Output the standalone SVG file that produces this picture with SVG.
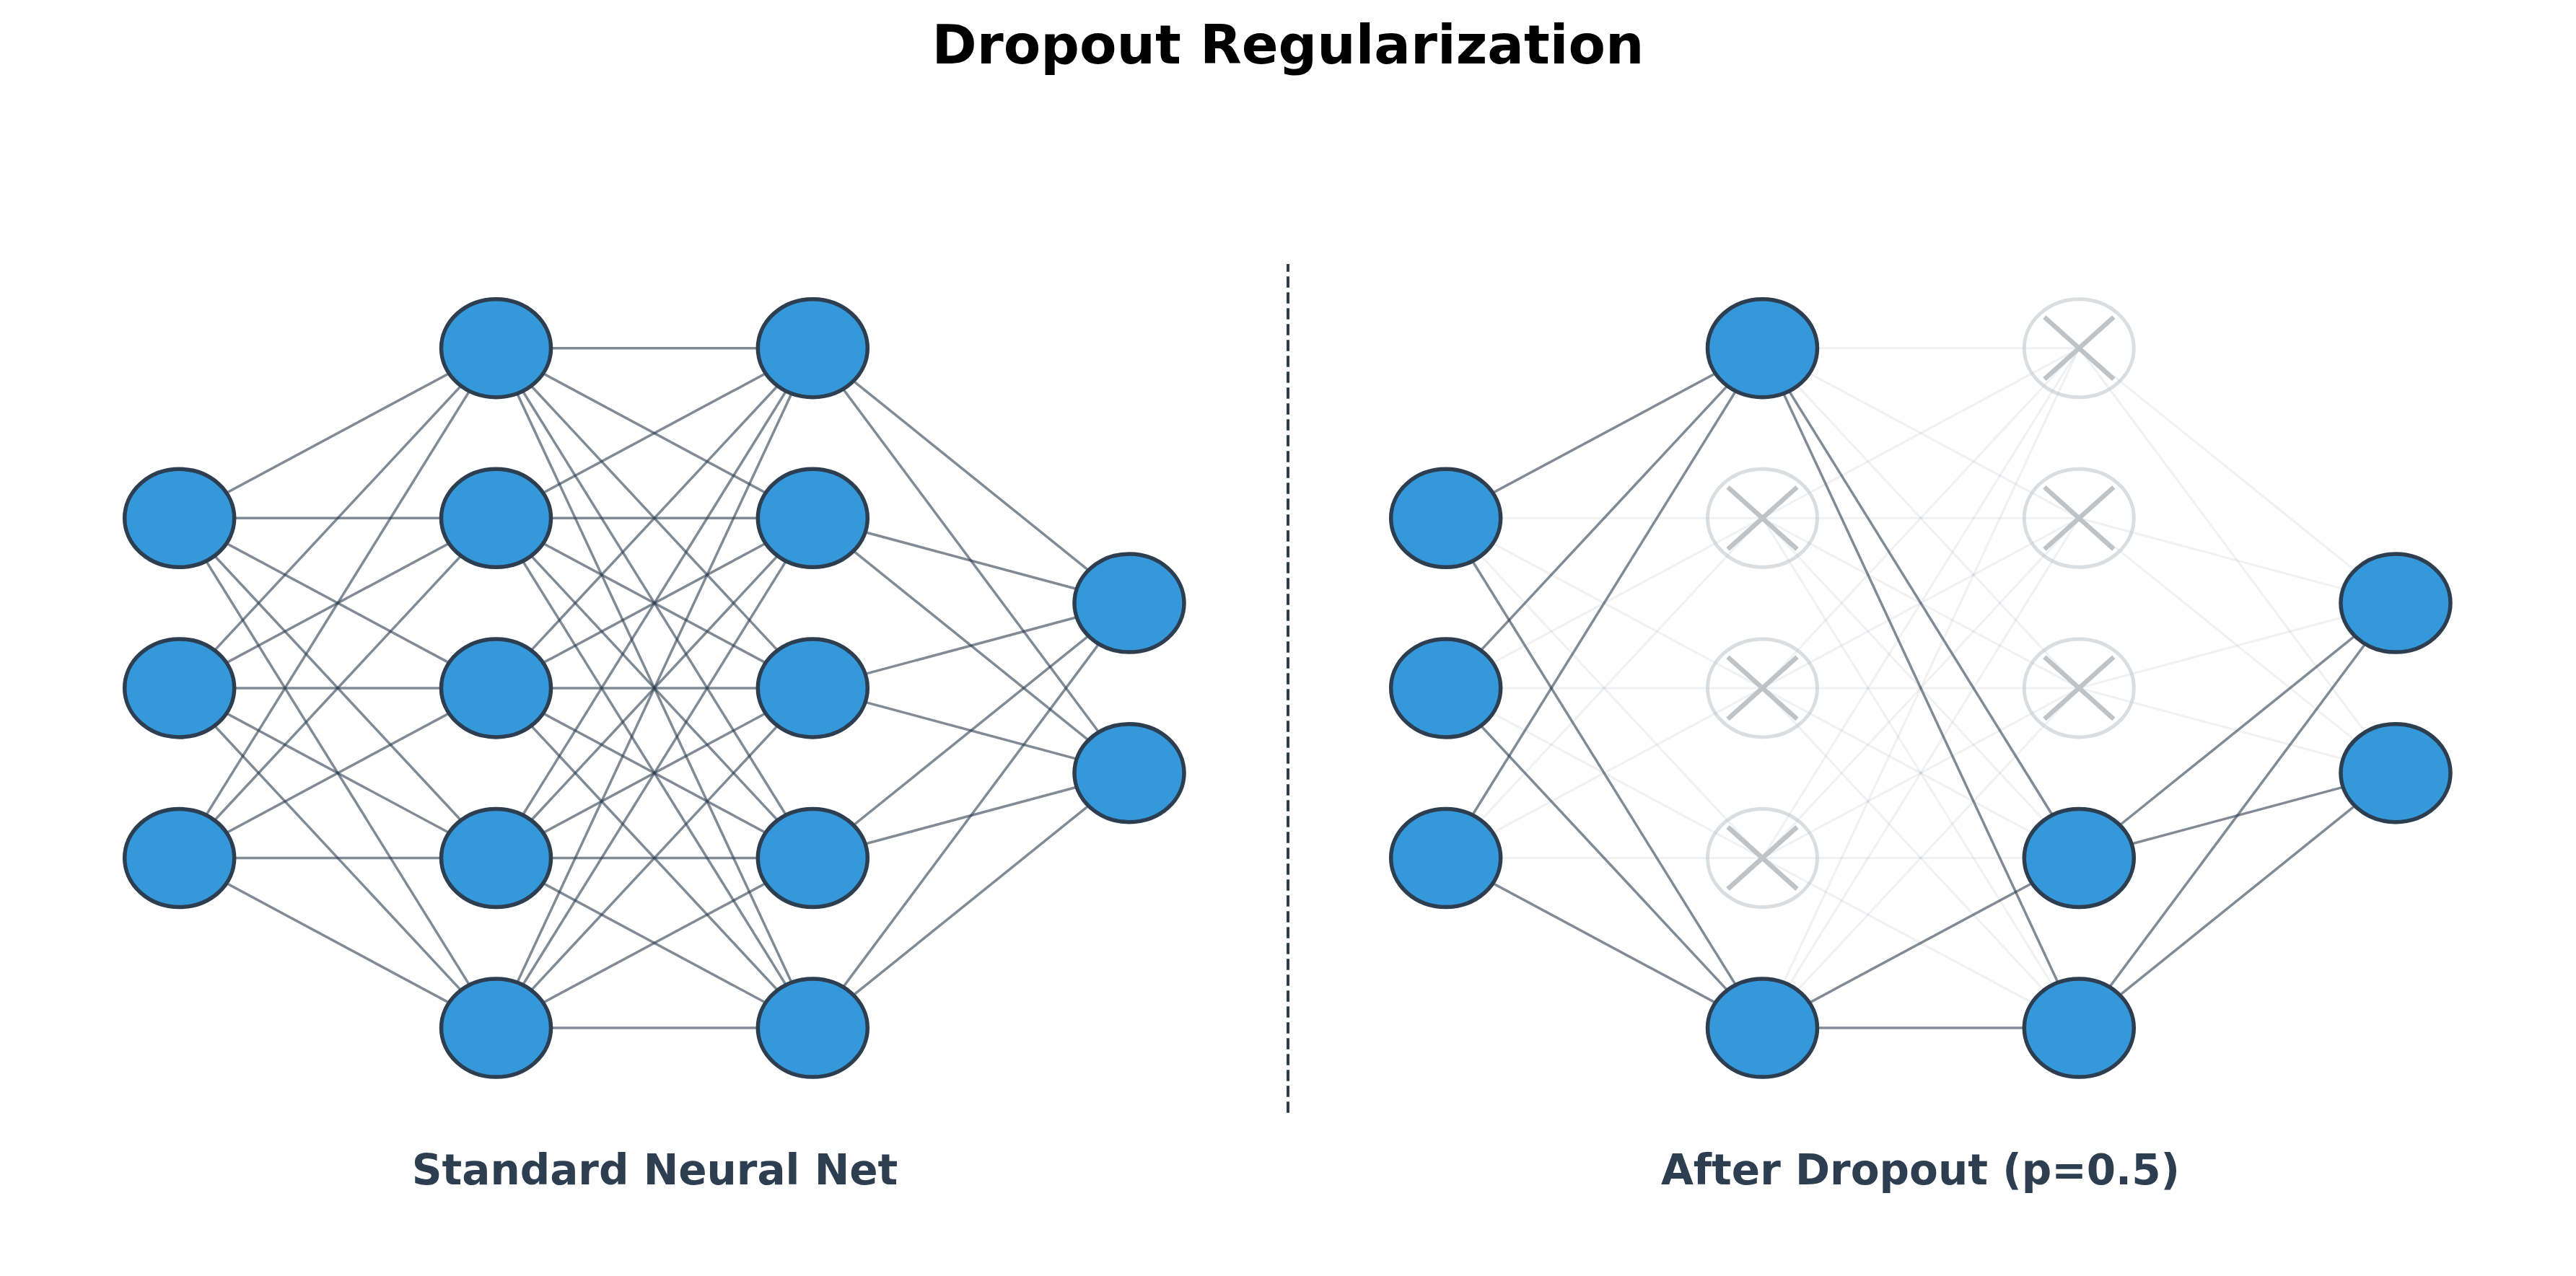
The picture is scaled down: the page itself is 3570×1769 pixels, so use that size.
<svg xmlns="http://www.w3.org/2000/svg" width="3570" height="1769" viewBox="0 0 3570 1769">
<style>
.bg{fill:#ffffff}
.c{stroke:#2c3e50;stroke-opacity:0.6;stroke-width:3.5}
.f{stroke:#2c3e50;stroke-opacity:0.07;stroke-width:3}
.n{fill:#3498db;stroke:#2c3e50;stroke-width:5.5}
.d{fill:none;stroke:#bdc3c7;stroke-opacity:0.55;stroke-width:5}
.x{stroke:#bdc3c7;stroke-width:6.5}
.title{font-family:"DejaVu Sans","Liberation Sans",sans-serif;font-weight:bold;font-size:75px;fill:#000000;text-anchor:middle}
.lab{font-family:"DejaVu Sans","Liberation Sans",sans-serif;font-weight:bold;font-size:58px;fill:#2c3e50;text-anchor:middle}
.div{stroke:#2c3e50;stroke-width:4;stroke-dasharray:15.5 6.5;fill:none}
</style>
<rect class="bg" x="0" y="0" width="3570" height="1769"/>
<text class="title" x="1785" y="88">Dropout Regularization</text>
<path class="div" d="M1785 1542.7 V366"/>
<g id="connectors">
<!-- left network: input -> hidden1 -->
<line class="c" x1="248.7" y1="718.3" x2="687.5" y2="482.7"/>
<line class="c" x1="248.7" y1="718.3" x2="687.5" y2="718.3"/>
<line class="c" x1="248.7" y1="718.3" x2="687.5" y2="953.9"/>
<line class="c" x1="248.7" y1="718.3" x2="687.5" y2="1189.5"/>
<line class="c" x1="248.7" y1="718.3" x2="687.5" y2="1425.1"/>
<line class="c" x1="248.7" y1="953.9" x2="687.5" y2="482.7"/>
<line class="c" x1="248.7" y1="953.9" x2="687.5" y2="718.3"/>
<line class="c" x1="248.7" y1="953.9" x2="687.5" y2="953.9"/>
<line class="c" x1="248.7" y1="953.9" x2="687.5" y2="1189.5"/>
<line class="c" x1="248.7" y1="953.9" x2="687.5" y2="1425.1"/>
<line class="c" x1="248.7" y1="1189.5" x2="687.5" y2="482.7"/>
<line class="c" x1="248.7" y1="1189.5" x2="687.5" y2="718.3"/>
<line class="c" x1="248.7" y1="1189.5" x2="687.5" y2="953.9"/>
<line class="c" x1="248.7" y1="1189.5" x2="687.5" y2="1189.5"/>
<line class="c" x1="248.7" y1="1189.5" x2="687.5" y2="1425.1"/>
<!-- left: hidden1 -> hidden2 -->
<line class="c" x1="687.5" y1="482.7" x2="1126.3" y2="482.7"/>
<line class="c" x1="687.5" y1="482.7" x2="1126.3" y2="718.3"/>
<line class="c" x1="687.5" y1="482.7" x2="1126.3" y2="953.9"/>
<line class="c" x1="687.5" y1="482.7" x2="1126.3" y2="1189.5"/>
<line class="c" x1="687.5" y1="482.7" x2="1126.3" y2="1425.1"/>
<line class="c" x1="687.5" y1="718.3" x2="1126.3" y2="482.7"/>
<line class="c" x1="687.5" y1="718.3" x2="1126.3" y2="718.3"/>
<line class="c" x1="687.5" y1="718.3" x2="1126.3" y2="953.9"/>
<line class="c" x1="687.5" y1="718.3" x2="1126.3" y2="1189.5"/>
<line class="c" x1="687.5" y1="718.3" x2="1126.3" y2="1425.1"/>
<line class="c" x1="687.5" y1="953.9" x2="1126.3" y2="482.7"/>
<line class="c" x1="687.5" y1="953.9" x2="1126.3" y2="718.3"/>
<line class="c" x1="687.5" y1="953.9" x2="1126.3" y2="953.9"/>
<line class="c" x1="687.5" y1="953.9" x2="1126.3" y2="1189.5"/>
<line class="c" x1="687.5" y1="953.9" x2="1126.3" y2="1425.1"/>
<line class="c" x1="687.5" y1="1189.5" x2="1126.3" y2="482.7"/>
<line class="c" x1="687.5" y1="1189.5" x2="1126.3" y2="718.3"/>
<line class="c" x1="687.5" y1="1189.5" x2="1126.3" y2="953.9"/>
<line class="c" x1="687.5" y1="1189.5" x2="1126.3" y2="1189.5"/>
<line class="c" x1="687.5" y1="1189.5" x2="1126.3" y2="1425.1"/>
<line class="c" x1="687.5" y1="1425.1" x2="1126.3" y2="482.7"/>
<line class="c" x1="687.5" y1="1425.1" x2="1126.3" y2="718.3"/>
<line class="c" x1="687.5" y1="1425.1" x2="1126.3" y2="953.9"/>
<line class="c" x1="687.5" y1="1425.1" x2="1126.3" y2="1189.5"/>
<line class="c" x1="687.5" y1="1425.1" x2="1126.3" y2="1425.1"/>
<!-- left: hidden2 -> output -->
<line class="c" x1="1126.3" y1="482.7" x2="1565" y2="836.1"/>
<line class="c" x1="1126.3" y1="482.7" x2="1565" y2="1071.7"/>
<line class="c" x1="1126.3" y1="718.3" x2="1565" y2="836.1"/>
<line class="c" x1="1126.3" y1="718.3" x2="1565" y2="1071.7"/>
<line class="c" x1="1126.3" y1="953.9" x2="1565" y2="836.1"/>
<line class="c" x1="1126.3" y1="953.9" x2="1565" y2="1071.7"/>
<line class="c" x1="1126.3" y1="1189.5" x2="1565" y2="836.1"/>
<line class="c" x1="1126.3" y1="1189.5" x2="1565" y2="1071.7"/>
<line class="c" x1="1126.3" y1="1425.1" x2="1565" y2="836.1"/>
<line class="c" x1="1126.3" y1="1425.1" x2="1565" y2="1071.7"/>
<!-- right network: faint (dropped) connections -->
<line class="f" x1="2003.7" y1="718.3" x2="2442.5" y2="718.3"/>
<line class="f" x1="2003.7" y1="718.3" x2="2442.5" y2="953.9"/>
<line class="f" x1="2003.7" y1="718.3" x2="2442.5" y2="1189.5"/>
<line class="f" x1="2003.7" y1="953.9" x2="2442.5" y2="718.3"/>
<line class="f" x1="2003.7" y1="953.9" x2="2442.5" y2="953.9"/>
<line class="f" x1="2003.7" y1="953.9" x2="2442.5" y2="1189.5"/>
<line class="f" x1="2003.7" y1="1189.5" x2="2442.5" y2="718.3"/>
<line class="f" x1="2003.7" y1="1189.5" x2="2442.5" y2="953.9"/>
<line class="f" x1="2003.7" y1="1189.5" x2="2442.5" y2="1189.5"/>
<line class="f" x1="2442.5" y1="482.7" x2="2881.3" y2="482.7"/>
<line class="f" x1="2442.5" y1="482.7" x2="2881.3" y2="718.3"/>
<line class="f" x1="2442.5" y1="482.7" x2="2881.3" y2="953.9"/>
<line class="f" x1="2442.5" y1="718.3" x2="2881.3" y2="482.7"/>
<line class="f" x1="2442.5" y1="718.3" x2="2881.3" y2="718.3"/>
<line class="f" x1="2442.5" y1="718.3" x2="2881.3" y2="953.9"/>
<line class="f" x1="2442.5" y1="718.3" x2="2881.3" y2="1189.5"/>
<line class="f" x1="2442.5" y1="718.3" x2="2881.3" y2="1425.1"/>
<line class="f" x1="2442.5" y1="953.9" x2="2881.3" y2="482.7"/>
<line class="f" x1="2442.5" y1="953.9" x2="2881.3" y2="718.3"/>
<line class="f" x1="2442.5" y1="953.9" x2="2881.3" y2="953.9"/>
<line class="f" x1="2442.5" y1="953.9" x2="2881.3" y2="1189.5"/>
<line class="f" x1="2442.5" y1="953.9" x2="2881.3" y2="1425.1"/>
<line class="f" x1="2442.5" y1="1189.5" x2="2881.3" y2="482.7"/>
<line class="f" x1="2442.5" y1="1189.5" x2="2881.3" y2="718.3"/>
<line class="f" x1="2442.5" y1="1189.5" x2="2881.3" y2="953.9"/>
<line class="f" x1="2442.5" y1="1189.5" x2="2881.3" y2="1189.5"/>
<line class="f" x1="2442.5" y1="1189.5" x2="2881.3" y2="1425.1"/>
<line class="f" x1="2442.5" y1="1425.1" x2="2881.3" y2="482.7"/>
<line class="f" x1="2442.5" y1="1425.1" x2="2881.3" y2="718.3"/>
<line class="f" x1="2442.5" y1="1425.1" x2="2881.3" y2="953.9"/>
<line class="f" x1="2881.3" y1="482.7" x2="3320" y2="836.1"/>
<line class="f" x1="2881.3" y1="482.7" x2="3320" y2="1071.7"/>
<line class="f" x1="2881.3" y1="718.3" x2="3320" y2="836.1"/>
<line class="f" x1="2881.3" y1="718.3" x2="3320" y2="1071.7"/>
<line class="f" x1="2881.3" y1="953.9" x2="3320" y2="836.1"/>
<line class="f" x1="2881.3" y1="953.9" x2="3320" y2="1071.7"/>
<!-- right network: active connections -->
<line class="c" x1="2003.7" y1="718.3" x2="2442.5" y2="482.7"/>
<line class="c" x1="2003.7" y1="718.3" x2="2442.5" y2="1425.1"/>
<line class="c" x1="2003.7" y1="953.9" x2="2442.5" y2="482.7"/>
<line class="c" x1="2003.7" y1="953.9" x2="2442.5" y2="1425.1"/>
<line class="c" x1="2003.7" y1="1189.5" x2="2442.5" y2="482.7"/>
<line class="c" x1="2003.7" y1="1189.5" x2="2442.5" y2="1425.1"/>
<line class="c" x1="2442.5" y1="482.7" x2="2881.3" y2="1189.5"/>
<line class="c" x1="2442.5" y1="482.7" x2="2881.3" y2="1425.1"/>
<line class="c" x1="2442.5" y1="1425.1" x2="2881.3" y2="1189.5"/>
<line class="c" x1="2442.5" y1="1425.1" x2="2881.3" y2="1425.1"/>
<line class="c" x1="2881.3" y1="1189.5" x2="3320" y2="836.1"/>
<line class="c" x1="2881.3" y1="1189.5" x2="3320" y2="1071.7"/>
<line class="c" x1="2881.3" y1="1425.1" x2="3320" y2="836.1"/>
<line class="c" x1="2881.3" y1="1425.1" x2="3320" y2="1071.7"/>
</g>
<!-- left network nodes -->
<g id="std-in-1"><ellipse class="n" cx="248.7" cy="718.3" rx="76" ry="68"/></g>
<g id="std-in-2"><ellipse class="n" cx="248.7" cy="953.9" rx="76" ry="68"/></g>
<g id="std-in-3"><ellipse class="n" cx="248.7" cy="1189.5" rx="76" ry="68"/></g>
<g id="std-h1-1"><ellipse class="n" cx="687.5" cy="482.7" rx="76" ry="68"/></g>
<g id="std-h1-2"><ellipse class="n" cx="687.5" cy="718.3" rx="76" ry="68"/></g>
<g id="std-h1-3"><ellipse class="n" cx="687.5" cy="953.9" rx="76" ry="68"/></g>
<g id="std-h1-4"><ellipse class="n" cx="687.5" cy="1189.5" rx="76" ry="68"/></g>
<g id="std-h1-5"><ellipse class="n" cx="687.5" cy="1425.1" rx="76" ry="68"/></g>
<g id="std-h2-1"><ellipse class="n" cx="1126.3" cy="482.7" rx="76" ry="68"/></g>
<g id="std-h2-2"><ellipse class="n" cx="1126.3" cy="718.3" rx="76" ry="68"/></g>
<g id="std-h2-3"><ellipse class="n" cx="1126.3" cy="953.9" rx="76" ry="68"/></g>
<g id="std-h2-4"><ellipse class="n" cx="1126.3" cy="1189.5" rx="76" ry="68"/></g>
<g id="std-h2-5"><ellipse class="n" cx="1126.3" cy="1425.1" rx="76" ry="68"/></g>
<g id="std-out-1"><ellipse class="n" cx="1565" cy="836.1" rx="76" ry="68"/></g>
<g id="std-out-2"><ellipse class="n" cx="1565" cy="1071.7" rx="76" ry="68"/></g>
<!-- right network nodes -->
<g id="drop-in-1"><ellipse class="n" cx="2003.7" cy="718.3" rx="76" ry="68"/></g>
<g id="drop-in-2"><ellipse class="n" cx="2003.7" cy="953.9" rx="76" ry="68"/></g>
<g id="drop-in-3"><ellipse class="n" cx="2003.7" cy="1189.5" rx="76" ry="68"/></g>
<g id="drop-h1-1"><ellipse class="n" cx="2442.5" cy="482.7" rx="76" ry="68"/></g>
<g id="drop-h1-2"><ellipse class="d" cx="2442.5" cy="718.3" rx="76" ry="68"/><path class="x" d="M2394.5 675.3 L2490.5 761.3 M2490.5 675.3 L2394.5 761.3"/></g>
<g id="drop-h1-3"><ellipse class="d" cx="2442.5" cy="953.9" rx="76" ry="68"/><path class="x" d="M2394.5 910.9 L2490.5 996.9 M2490.5 910.9 L2394.5 996.9"/></g>
<g id="drop-h1-4"><ellipse class="d" cx="2442.5" cy="1189.5" rx="76" ry="68"/><path class="x" d="M2394.5 1146.5 L2490.5 1232.5 M2490.5 1146.5 L2394.5 1232.5"/></g>
<g id="drop-h1-5"><ellipse class="n" cx="2442.5" cy="1425.1" rx="76" ry="68"/></g>
<g id="drop-h2-1"><ellipse class="d" cx="2881.3" cy="482.7" rx="76" ry="68"/><path class="x" d="M2833.3 439.7 L2929.3 525.7 M2929.3 439.7 L2833.3 525.7"/></g>
<g id="drop-h2-2"><ellipse class="d" cx="2881.3" cy="718.3" rx="76" ry="68"/><path class="x" d="M2833.3 675.3 L2929.3 761.3 M2929.3 675.3 L2833.3 761.3"/></g>
<g id="drop-h2-3"><ellipse class="d" cx="2881.3" cy="953.9" rx="76" ry="68"/><path class="x" d="M2833.3 910.9 L2929.3 996.9 M2929.3 910.9 L2833.3 996.9"/></g>
<g id="drop-h2-4"><ellipse class="n" cx="2881.3" cy="1189.5" rx="76" ry="68"/></g>
<g id="drop-h2-5"><ellipse class="n" cx="2881.3" cy="1425.1" rx="76" ry="68"/></g>
<g id="drop-out-1"><ellipse class="n" cx="3320" cy="836.1" rx="76" ry="68"/></g>
<g id="drop-out-2"><ellipse class="n" cx="3320" cy="1071.7" rx="76" ry="68"/></g>
<text class="lab" x="907.5" y="1641.7">Standard Neural Net</text>
<text class="lab" x="2661.5" y="1641.7">After Dropout (p=0.5)</text>
</svg>
